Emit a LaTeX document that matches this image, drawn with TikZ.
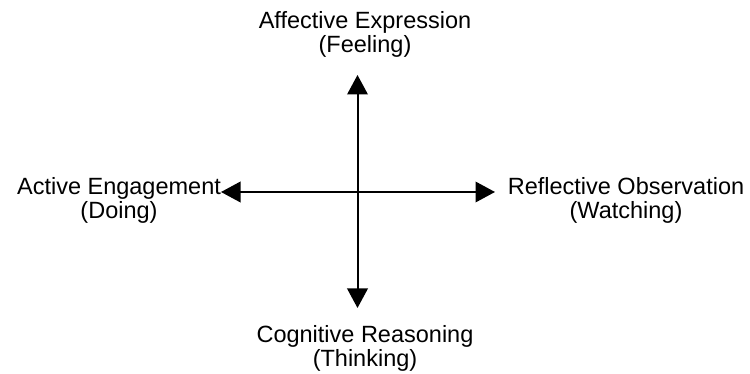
\documentclass[tikz,border=0pt]{standalone}
\usepackage{fontspec}
\setmainfont{Liberation Sans}
\usetikzlibrary{arrows.meta}
\begin{document}
\begin{tikzpicture}[x=1pt,y=1pt,
  lbl/.style={align=center,inner sep=0pt,font=\fontsize{23.5}{24}\selectfont},
  axis/.style={line width=2pt,-{Triangle[length=19.5pt,width=20.5pt]}}]
\useasboundingbox (0,0) rectangle (750,374);
\coordinate (o) at (357.5,182);
\coordinate (t) at (357.5,299);
\coordinate (b) at (357.5,66);
\coordinate (l) at (221,182);
\coordinate (r) at (495,182);
\draw[axis] (o) -- (t);
\draw[axis] (o) -- (b);
\draw[axis] (o) -- (l);
\draw[axis] (o) -- (r);
\node[lbl,anchor=base] (top) at (365,321) {Affective Expression\\(Feeling)};
\node[lbl,anchor=base] (left) at (119,155) {Active Engagement\\(Doing)};
\node[lbl,anchor=base] (right) at (626,155) {Reflective Observation\\(Watching)};
\node[lbl,anchor=base] (bot) at (365,7) {Cognitive Reasoning\\(Thinking)};
\end{tikzpicture}
\end{document}
